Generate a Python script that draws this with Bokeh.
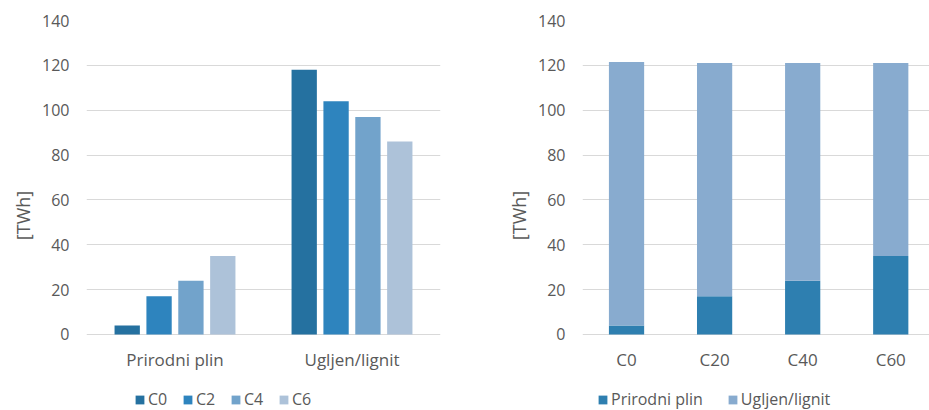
from bokeh.plotting import figure
from bokeh.layouts import row
from bokeh.models import (ColumnDataSource, FactorRange, Range1d, FixedTicker,
                          Legend, LegendItem, Title)
from bokeh.core.properties import value
from bokeh.transform import dodge
from bokeh.embed import file_html
from bokeh.resources import INLINE
import numpy as np

# ---- data ----
fuels = ["Prirodni plin", "Ugljen/lignit"]
series_left = ["C0", "C2", "C4", "C6"]
c0 = [4, 118]
c2 = [17, 104]
c4 = [24, 97]
c6 = [35, 86]

scenarios = ["C0", "C20", "C40", "C60"]
gas = [4, 17, 24, 35]
coal = [117.5, 104, 97, 86]

y_ticks = [0, 20, 40, 60, 80, 100, 120, 140]

left_colors = ["#2571A0", "#2E84BE", "#72A3CB", "#ADC2D9"]
gas_color = "#2E7FB0"
coal_color = "#88ABCF"

FONT = "Open Sans"
TXT = "#595959"
GRID = "#D9D9D9"
FS = "16px"


def style(p):
    p.outline_line_color = None
    p.background_fill_color = "white"
    p.border_fill_color = "white"
    p.xgrid.grid_line_color = None
    p.ygrid.grid_line_color = GRID
    p.ygrid.grid_line_width = 1
    p.yaxis.ticker = FixedTicker(ticks=y_ticks)
    p.xaxis.visible = False
    ax = p.yaxis[0]
    ax.axis_line_color = None
    ax.major_tick_line_color = None
    ax.minor_tick_line_color = None
    ax.major_tick_out = 0
    ax.major_tick_in = 0
    ax.major_label_text_font = FONT
    ax.major_label_text_font_size = FS
    ax.major_label_text_color = TXT
    ax.major_label_standoff = 17
    p.add_layout(Title(text="[TWh]", align="center", offset=-38,
                       text_font=FONT, text_font_size="18px",
                       text_font_style="normal", text_color=TXT), "left")


def make_legend(items, x, spacing):
    return Legend(items=items, orientation="horizontal", location=(x, 0),
                  label_text_font=FONT, label_text_font_size=FS,
                  label_text_color=TXT, glyph_width=11, glyph_height=11,
                  label_standoff=3, spacing=spacing, padding=0, margin=0,
                  border_line_color=None, background_fill_alpha=0)


# ---- left chart ----
src = ColumnDataSource(dict(fuel=fuels, C0=c0, C2=c2, C4=c4, C6=c6))
p1 = figure(frame_width=354, frame_height=390, x_range=FactorRange(*fuels),
            y_range=Range1d(-33.9, 140), output_backend="svg",
            toolbar_location=None, min_border_left=86, min_border_right=30,
            min_border_top=20, min_border_bottom=0)
offsets = [-0.27, -0.09, 0.09, 0.27]
items = []
for s, off, col in zip(series_left, offsets, left_colors):
    r = p1.vbar(x=dodge("fuel", off, range=p1.x_range), top=s, bottom=0,
                width=0.143, source=src, fill_color=col, line_color=None)
    items.append(LegendItem(label=s, renderers=[r]))
p1.text(x="fuel", y=0, text="fuel", source=src, y_offset=25,
        text_align="center", text_baseline="middle", text_font=value(FONT),
        text_font_size="17px", text_color=TXT)
style(p1)
p1.add_layout(make_legend(items, 48, 14), "center")

# ---- right chart ----
xs = list(np.arange(len(scenarios)) + 0.5)
src2 = ColumnDataSource(dict(x=xs, gas=gas, coal=coal, name=scenarios))
p2 = figure(frame_width=347, frame_height=390, x_range=Range1d(0, 3.94),
            y_range=Range1d(-33.9, 140), output_backend="svg",
            toolbar_location=None, min_border_left=112, min_border_right=0,
            min_border_top=20, min_border_bottom=0)
rs = p2.vbar_stack(["gas", "coal"], x="x", width=0.4, source=src2,
                   fill_color=[gas_color, coal_color], line_color=None)
p2.text(x="x", y=0, text="name", source=src2, y_offset=25,
        text_align="center", text_baseline="middle", text_font=value(FONT),
        text_font_size="17px", text_color=TXT)
style(p2)
leg2_items = [LegendItem(label="Prirodni plin", renderers=[rs[0]]),
              LegendItem(label="Ugljen/lignit", renderers=[rs[1]])]
p2.add_layout(make_legend(leg2_items, 15, 24), "center")

layout = row(p1, p2)
open("out.html", "w").write(file_html(layout, INLINE))
